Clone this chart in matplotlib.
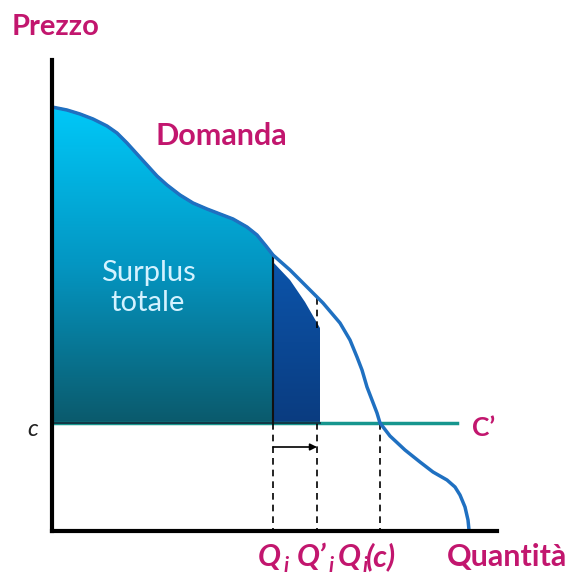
import numpy as np
import matplotlib.pyplot as plt
from matplotlib.patches import Polygon
from matplotlib.colors import LinearSegmentedColormap

# Data (pixel-like units; y grows downward)
dem_x = [52, 67, 80, 93, 107, 117, 127, 137, 147, 157, 167, 180, 193, 207, 220, 233,
         247, 257, 266, 273, 290, 307, 323, 340, 350, 357, 362, 367, 372, 377, 380,
         390, 405, 420, 433, 447, 455, 460, 465, 468, 469]
dem_y = [107, 110, 114, 119, 126, 133, 143, 154, 165, 176, 185, 195, 203, 209, 214, 219,
         227, 235, 246, 255, 270, 287, 303, 323, 340, 357, 370, 387, 400, 413, 423,
         436, 450, 462, 472, 480, 487, 495, 507, 520, 530]
c_level = 423
q_i, q_i2, q_ic = 273, 320, 380
x_axis_y, y_axis_x = 531, 52

magenta = '#c2166e'

fig = plt.figure(figsize=(5.75, 5.78), dpi=100)
ax = fig.add_axes([0, 0, 1, 1])
ax.set_xlim(0, 575)
ax.set_ylim(578, 0)
ax.axis('off')

dx = np.array(dem_x, float)
dy = np.array(dem_y, float)

# surplus totale region (gradient, clipped)
m = dx <= q_i
px = list(dx[m]) + [q_i, y_axis_x]
py = list(dy[m]) + [c_level, c_level]
surp = Polygon(np.column_stack([px, py]), closed=True, fc='none', ec='#1a3f70', lw=1.5, zorder=3)
ax.add_patch(surp)
cmap1 = LinearSegmentedColormap.from_list('s', ['#00c8f8', '#0496c2', '#0b5a6c'])
grad = np.linspace(0, 1, 256).reshape(-1, 1)
im = ax.imshow(grad, cmap=cmap1, aspect='auto', extent=(y_axis_x, q_i, c_level, 107), zorder=2)
im.set_clip_path(surp)

# extra region between Q_i and Q'_i
ex_x = [q_i, 290, 305, q_i2, q_i2, q_i]
ex_y = [262, 280, 302, 328, c_level, c_level]
extra = Polygon(np.column_stack([ex_x, ex_y]), closed=True, fc='none', ec='none', zorder=3)
ax.add_patch(extra)
cmap2 = LinearSegmentedColormap.from_list('e', ['#0c54aa', '#0a3c80'])
im2 = ax.imshow(grad, cmap=cmap2, aspect='auto', extent=(q_i, q_i2, c_level, 262), zorder=2)
im2.set_clip_path(extra)

# cost line
ax.plot([y_axis_x, 457], [c_level, c_level], color='#16968e', lw=2.5, zorder=4)
ax.plot([y_axis_x, q_i2], [c_level, c_level], color='#123040', lw=1.3, zorder=5)
ax.plot([q_i, q_i], [255, c_level], color='#111111', lw=1.5, zorder=5)

# demand curve
ax.plot(dx, dy, color='#1f70c1', lw=2.5, zorder=6, solid_capstyle='round', solid_joinstyle='round')

# dashed guides
for xq in [q_i, q_i2 - 3, q_ic]:
    ax.plot([xq, xq], [c_level, x_axis_y], color='black', lw=1.2, ls=(0, (4, 3)), zorder=4)
ax.plot([q_i2 - 3, q_i2 - 3], [298, 330], color='black', lw=1.2, ls=(0, (4, 3)), zorder=4)

# arrow
ax.annotate('', xy=(q_i2 - 3, 447), xytext=(q_i, 447),
            arrowprops=dict(arrowstyle='-|>', color='black', lw=1.2, mutation_scale=10,
                            shrinkA=0, shrinkB=0), zorder=7)

# axes
ax.plot([y_axis_x, y_axis_x], [60, x_axis_y], color='black', lw=3, zorder=8)
ax.plot([y_axis_x, 497], [x_axis_y, x_axis_y], color='black', lw=3, zorder=8)

# texts
fnt = 'Lato'
bold = dict(color=magenta, fontweight='bold', family=fnt, va='baseline')
ax.text(12, 35, 'Prezzo', fontsize=21, **bold)
ax.text(156, 145, 'Domanda', fontsize=22, **bold)
ax.text(148, 288, 'Surplus\ntotale', color='#d4f2ff', fontsize=21, family=fnt,
        ha='center', va='center', linespacing=1.2, zorder=9)
ax.text(27, 436, 'c', color='#222222', fontsize=17, style='italic', family=fnt, va='baseline')
ax.text(472, 436, 'C\u2019', fontsize=19, **bold)
ax.text(447, 566, 'Quantità', fontsize=22, **bold)

# Q labels with clipped subscripts
ital = dict(color=magenta, fontweight='bold', style='italic', family=fnt)
sub = dict(color=magenta, fontweight='bold', style='italic', family=fnt, fontsize=15, va='top')
ax.text(258, 566, 'Q', fontsize=22, va='baseline', **ital)
ax.text(283, 556, 'i', **sub)
ax.text(297, 566, 'Q\u2019', fontsize=22, va='baseline', **ital)
ax.text(328, 556, 'i', **sub)
ax.text(338, 566, 'Q', fontsize=22, va='baseline', **ital)
ax.text(362, 556, 'i', **sub)
ax.text(366, 566, '(c)', fontsize=22, va='baseline', **ital)

fig.savefig('out.png', dpi=100)
